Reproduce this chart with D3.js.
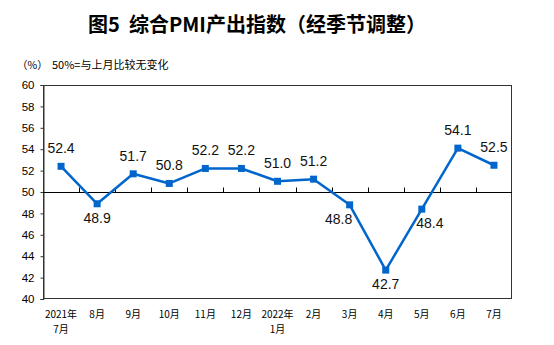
<!DOCTYPE html>
<html><head><meta charset="utf-8">
<script src="https://cdn.jsdelivr.net/npm/d3@7"></script>
<style>body{margin:0;background:#fff}svg{display:block}</style>
</head><body>
<svg id="c" width="554" height="345"></svg>
<script>
const categories = ["2021年\n7月","8月","9月","10月","11月","12月","2022年\n1月","2月","3月","4月","5月","6月","7月"];
const values = [52.4,48.9,51.7,50.8,52.2,52.2,51.0,51.2,48.8,42.7,48.4,54.1,52.5];
const labelPos = ["a","b","a","a","a","a","a","a","bl","b","br","a","a"];
const yTicks = [40,42,44,46,48,50,52,54,56,58,60];
const titleText = "图5  综合PMI产出指数（经季节调整）";

const svg = d3.select("#c");
const m = {l:43, r:512, t:85, b:299};
const x = d3.scaleBand().domain(d3.range(categories.length)).range([m.l, m.r]);
const y = d3.scaleLinear().domain([40,60]).range([m.b, m.t]);
const cjk = "'Noto Sans CJK SC', sans-serif";
const lat = "'Liberation Sans', Arial, sans-serif";

svg.append("text").attr("x",257).attr("y",32).attr("text-anchor","middle").style("white-space","pre")
  .attr("font-family",cjk).attr("font-weight","bold").attr("font-size",20).attr("fill","#000").text(titleText);
svg.append("text").attr("x",17).attr("y",69).attr("font-family",cjk).attr("font-size",10.5).attr("fill","#000").text("（%）");
svg.append("text").attr("x",52).attr("y",69).attr("font-family",cjk).attr("font-size",11).attr("fill","#000").text("50%=与上月比较无变化");

// frame
svg.append("rect").attr("x",m.l+0.5).attr("y",m.t+0.5).attr("width",m.r-m.l-1).attr("height",m.b-m.t-1)
  .attr("fill","none").attr("stroke","#333").attr("stroke-width",1);

// y axis
const ya = svg.append("g").attr("transform",`translate(${m.l+0.5},0)`)
  .call(d3.axisLeft(y).tickValues(yTicks).tickSize(3).tickPadding(6).tickFormat(d3.format("d")));
ya.select(".domain").attr("stroke","#333");
ya.selectAll(".tick line").attr("stroke","#333");
ya.selectAll("text").attr("font-family",lat).attr("font-size",11.5).attr("fill","#000");

// 50 line with category ticks
const y50 = Math.round(y(50))+0.5;
svg.append("line").attr("x1",m.l).attr("x2",m.r).attr("y1",y50).attr("y2",y50).attr("stroke","#000");
svg.selectAll(".bt").data(d3.range(1,categories.length)).enter().append("line")
  .attr("x1",i=>Math.round(m.l + x.step()*i)+0.5).attr("x2",i=>Math.round(m.l + x.step()*i)+0.5)
  .attr("y1",y50).attr("y2",y50-5).attr("stroke","#000");

// x labels
const xl = svg.append("g");
categories.forEach((c,i)=>{
  c.split("\n").forEach((s,k)=>xl.append("text").attr("x",x(i)+x.bandwidth()/2).attr("y",318+k*14.5)
    .attr("text-anchor","middle").attr("font-family",cjk).attr("font-size",10).attr("fill","#000").text(s));
});

// line
const cx = i => x(i)+x.bandwidth()/2;
svg.append("path").datum(values).attr("fill","none").attr("stroke","#0066CC").attr("stroke-width",2.5)
  .attr("stroke-linejoin","round")
  .attr("d", d3.line().x((d,i)=>cx(i)).y(d=>y(d)));
svg.selectAll(".mk").data(values).enter().append("rect")
  .attr("x",(d,i)=>cx(i)-3.5).attr("y",d=>y(d)-3.5).attr("width",7).attr("height",7).attr("fill","#0066CC");

// labels
svg.selectAll(".lb").data(values).enter().append("text")
  .attr("x",(d,i)=>cx(i) + (labelPos[i]==="bl"?-11:labelPos[i]==="br"?8:0))
  .attr("y",(d,i)=>y(d) + (labelPos[i]==="a"?-13:19))
  .attr("text-anchor","middle").attr("font-family",lat).attr("font-size",14).attr("fill","#111")
  .text(d=>d.toFixed(1));
</script>
</body></html>
